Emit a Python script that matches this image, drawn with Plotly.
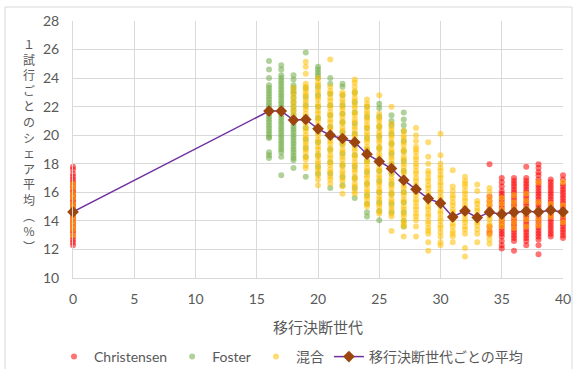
import plotly.graph_objects as go

# ---------------- data ----------------
christensen = {
    0: [17.8, 17.6, 17.3, 17.1, 16.9, 16.7, 16.6, 16.4, 16.3, 16.1, 16.0, 15.8, 15.7, 15.5, 15.4,
        15.2, 15.1, 14.9, 14.8, 14.6, 14.5, 14.3, 14.2, 14.0, 13.9, 13.7, 13.6, 13.4, 13.3, 13.1,
        12.9, 12.7, 12.5, 12.3],
    34: [17.97, 15.7, 15.4, 15.1, 14.8, 13.6, 13.3, 13.1],
    35: [17.0, 16.7, 16.4, 16.1, 15.9, 15.7, 15.5, 15.3, 15.1, 14.9, 14.7, 14.5, 14.3, 14.1, 13.9,
         13.7, 13.5, 13.3, 13.1, 12.9, 12.6, 12.3, 12.06],
    36: [17.0, 16.8, 16.6, 16.4, 16.2, 16.0, 15.8, 15.6, 15.4, 15.2, 15.0, 14.8, 14.6, 14.4, 14.2,
         14.0, 13.8, 13.6, 13.4, 13.2, 13.0, 12.8, 12.6, 11.9],
    37: [17.8, 17.0, 16.8, 16.6, 16.4, 16.2, 16.0, 15.8, 15.6, 15.4, 15.2, 15.0, 14.8, 14.6, 14.4,
         14.2, 14.0, 13.8, 13.6, 13.4, 13.2, 13.0, 12.8, 12.6, 12.3],
    38: [17.97, 17.7, 17.4, 17.2, 16.9, 16.7, 16.5, 16.3, 16.1, 15.9, 15.7, 15.5, 15.3, 15.1, 14.9,
         14.7, 14.5, 14.3, 14.1, 13.9, 13.7, 13.5, 13.3, 13.1, 12.9, 12.7, 12.3, 11.66],
    39: [16.9, 16.7, 16.5, 16.3, 16.1, 15.9, 15.7, 15.5, 15.3, 15.1, 14.9, 14.7, 14.5, 14.3, 14.1,
         13.9, 13.7, 13.5, 13.3, 13.1, 12.9],
    40: [17.2, 16.9, 16.6, 16.4, 16.2, 16.0, 15.8, 15.6, 15.4, 15.2, 15.0, 14.8, 14.6, 14.4, 14.2,
         14.0, 13.8, 13.6, 13.4, 13.2, 13.0, 12.8],
}

foster = {
    16: [25.2, 24.6, 24.0, 23.5, 23.3, 23.1, 22.9, 22.7, 22.5, 22.3, 22.1, 21.9, 21.7, 21.5, 21.3,
         21.1, 20.9, 20.7, 20.5, 20.3, 20.1, 19.9, 19.8, 18.8, 18.6, 18.4],
    17: [24.9, 24.6, 24.2, 24.0, 23.8, 23.6, 23.4, 23.2, 23.0, 22.8, 22.6, 22.4, 22.2, 22.0, 21.8,
         21.6, 21.4, 21.2, 21.0, 20.8, 20.6, 20.4, 20.2, 20.0, 19.8, 19.6, 19.4, 19.2, 19.0, 18.8,
         18.5, 17.2],
    18: [24.2, 23.9, 23.5, 23.3, 23.1, 22.9, 22.6, 22.3, 22.0, 21.7, 21.4, 21.1, 20.8, 20.6, 20.4,
         20.2, 20.0, 19.8, 19.6, 19.4, 19.2, 19.0, 18.8, 18.6, 18.4, 18.25, 17.7],
    19: [25.8, 23.3, 22.7, 22.1, 21.3, 20.5, 19.7, 19.1, 18.5, 17.1],
    20: [24.8, 24.6, 24.4, 24.2, 24.0, 23.4, 22.8, 22.0, 21.2, 20.3, 19.5, 18.6, 17.8, 17.3],
    21: [24.0, 23.6, 22.9, 22.1, 21.4, 20.6, 19.8, 19.0, 18.1, 17.3, 16.3],
    22: [23.6, 23.4, 22.8, 22.1, 21.5, 20.9, 20.2, 19.4, 18.7, 17.9, 17.1, 16.5],
    23: [23.0, 22.3, 21.6, 20.8, 20.1, 19.3, 18.6, 17.8, 17.0, 16.3, 15.6],
    24: [22.0, 21.3, 20.5, 19.8, 19.0, 18.2, 17.4, 16.6, 15.8, 15.2, 14.6, 14.3],
    25: [22.2, 21.9, 21.3, 20.6, 19.9, 19.1, 18.3, 17.5, 16.8, 16.0, 15.3, 14.7, 14.05],
    26: [21.4, 21.0, 20.7, 20.1, 19.4, 18.7, 18.0, 17.3, 16.6, 15.9, 15.2, 14.6],
    27: [21.6, 21.1, 20.7, 20.3, 19.6, 18.9, 18.2, 17.5, 16.8, 16.0, 15.3, 14.6, 14.0, 13.6],
}

mixed = {
    0: [16.6, 16.3, 15.9, 15.6, 15.2, 14.9, 14.6, 14.3, 14.0, 13.7, 13.4, 13.0],
    18: [23.3, 23.0, 22.7, 22.4, 22.1, 21.8, 21.5, 21.2],
    19: [25.15, 24.8, 24.3, 23.6, 23.4, 23.2, 23.0, 22.8, 22.5, 22.3, 22.0, 21.8, 21.5, 21.3, 21.0,
         20.8, 20.5, 20.3, 20.0, 19.8, 19.5, 19.3, 19.0, 18.8, 18.5, 18.3, 17.9, 17.7],
    20: [24.0, 23.7, 23.5, 23.2, 23.0, 22.7, 22.5, 22.2, 22.0, 21.7, 21.5, 21.2, 21.0, 20.7, 20.5,
         20.2, 20.0, 19.7, 19.5, 19.2, 19.0, 18.7, 18.5, 18.2, 18.0, 17.7, 17.5, 17.2, 16.9, 16.5],
    21: [25.3, 23.4, 23.1, 22.9, 22.6, 22.4, 22.1, 21.9, 21.6, 21.4, 21.1, 20.9, 20.6, 20.4, 20.1,
         19.9, 19.6, 19.4, 19.1, 18.9, 18.6, 18.4, 18.1, 17.9, 17.6, 17.4, 17.1, 16.9, 16.6],
    22: [23.0, 22.8, 22.5, 22.3, 22.0, 21.8, 21.5, 21.3, 21.0, 20.8, 20.5, 20.3, 20.0, 19.8, 19.5,
         19.3, 19.0, 18.8, 18.5, 18.3, 18.0, 17.8, 17.5, 17.3, 17.0, 16.8, 16.4, 15.9],
    23: [23.9, 23.7, 23.4, 23.1, 22.9, 22.6, 22.4, 22.1, 21.9, 21.6, 21.4, 21.1, 20.9, 20.6, 20.4,
         20.1, 19.9, 19.6, 19.4, 19.1, 18.9, 18.6, 18.4, 18.1, 17.9, 17.6, 17.4, 17.1, 16.9, 16.6,
         16.4, 16.1, 15.9],
    24: [22.5, 22.2, 22.0, 21.7, 21.5, 21.2, 21.0, 20.7, 20.5, 20.2, 20.0, 19.7, 19.5, 19.2, 19.0,
         18.7, 18.5, 18.2, 18.0, 17.7, 17.5, 17.2, 17.0, 16.7, 16.5, 16.2, 16.0, 15.7, 15.5, 15.2,
         15.0],
    25: [22.8, 21.5, 21.2, 21.0, 20.7, 20.5, 20.2, 20.0, 19.7, 19.5, 19.2, 19.0, 18.7, 18.5, 18.2,
         18.0, 17.7, 17.5, 17.2, 17.0, 16.7, 16.5, 16.2, 16.0, 15.7, 15.5, 15.2, 15.0, 14.7, 14.5],
    26: [22.0, 20.8, 20.5, 20.3, 20.0, 19.8, 19.5, 19.3, 19.0, 18.8, 18.5, 18.3, 18.0, 17.8, 17.5,
         17.3, 17.0, 16.8, 16.5, 16.3, 16.0, 15.8, 15.5, 15.3, 15.0, 14.8, 14.5, 14.3, 13.3],
    27: [20.3, 20.0, 19.8, 19.5, 19.3, 19.0, 18.8, 18.5, 18.3, 18.0, 17.8, 17.5, 17.3, 17.0, 16.8,
         16.5, 16.3, 16.0, 15.8, 15.5, 15.3, 15.0, 14.8, 14.5, 14.3, 14.0, 13.8, 13.6, 12.9],
    28: [20.5, 20.0, 19.6, 19.2, 19.0, 18.8, 18.5, 18.3, 18.0, 17.8, 17.5, 17.3, 17.0, 16.8, 16.5,
         16.3, 16.0, 15.8, 15.5, 15.3, 15.0, 14.8, 14.5, 14.3, 14.05, 13.6, 12.9],
    29: [19.5, 18.5, 18.0, 17.5, 17.3, 17.0, 16.8, 16.5, 16.3, 16.0, 15.8, 15.5, 15.3, 15.0, 14.8,
         14.5, 14.3, 14.0, 13.8, 13.5, 13.3, 13.1, 12.5, 11.9],
    30: [20.1, 18.6, 18.0, 17.7, 17.5, 17.2, 17.0, 16.7, 16.5, 16.2, 16.0, 15.7, 15.5, 15.2, 15.0,
         14.7, 14.5, 14.2, 14.0, 13.7, 13.5, 13.2, 12.9, 12.5, 12.3],
    31: [17.55, 16.4, 16.1, 15.8, 15.6, 15.3, 15.1, 14.8, 14.6, 14.3, 14.1, 13.8, 13.6, 13.3, 13.1,
         12.9, 12.5],
    32: [17.1, 16.8, 16.6, 16.4, 16.1, 15.9, 15.6, 15.4, 15.1, 14.9, 14.6, 14.4, 14.1, 13.9, 13.6,
         13.4, 13.1, 12.1, 11.5],
    33: [16.55, 16.1, 15.4, 15.2, 14.9, 14.7, 14.4, 14.2, 13.9, 13.7, 13.4, 13.1, 12.5],
    34: [16.3, 16.0, 15.6, 15.3, 15.1, 14.8, 14.6, 14.3, 14.1, 13.8, 13.6, 13.3, 13.0, 12.7, 12.4],
    35: [15.6, 15.2, 14.8, 14.5, 14.2, 13.9, 13.6],
    36: [15.8, 15.3, 14.9, 14.6, 14.3, 13.9, 13.5],
    37: [15.9, 15.4, 14.9, 14.5, 14.1, 13.6],
    38: [16.7, 15.3, 14.8, 14.5, 14.1, 13.7],
    39: [15.2, 14.9, 14.6, 14.3],
    40: [16.7, 15.1, 14.7, 14.4, 13.9],
}

mean_x = [0, 16, 17, 18, 19, 20, 21, 22, 23, 24, 25, 26, 27, 28, 29, 30, 31, 32, 33, 34, 35, 36, 37,
          38, 39, 40]
mean_y = [14.63, 21.69, 21.69, 21.06, 21.1, 20.45, 20.0, 19.77, 19.51, 18.67, 18.16, 17.67, 16.85,
          16.22, 15.56, 15.24, 14.28, 14.7, 14.23, 14.61, 14.47, 14.61, 14.68, 14.63, 14.75, 14.63]

series_names = ["Christensen", "Foster", "混合", "移行決断世代ごとの平均"]
y_title = "１試行ごとのシェア平均︵%︶"
x_title = "移行決断世代"


def flatten(d):
    xs, ys = [], []
    for k, vals in d.items():
        xs.extend([k] * len(vals))
        ys.extend(vals)
    return xs, ys


GRAY = "#595959"
GRID = "#D9D9D9"
LATIN = "Lato, 'Noto Sans', sans-serif"
CJK = "'Noto Sans CJK JP', 'Noto Sans', sans-serif"

fig = go.Figure()
for name, d, col in [(series_names[0], christensen, "#FF0000"),
                     (series_names[1], foster, "#70AD47"),
                     (series_names[2], mixed, "#FFC000")]:
    xs, ys = flatten(d)
    fig.add_trace(go.Scatter(x=xs, y=ys, mode="markers", name=name, cliponaxis=False,
                             marker=dict(size=6, color=col, opacity=0.55, line=dict(width=0))))

fig.add_trace(go.Scatter(x=mean_x, y=mean_y, mode="lines+markers", name=series_names[3],
                         cliponaxis=False,
                         line=dict(color="#7030A0", width=1.5),
                         marker=dict(symbol="diamond", size=9, color="#9C450E",
                                     line=dict(width=0))))

L, R, T, B = 73, 13, 21, 91
W, H = 576, 369
pw, ph = W - L - R, H - T - B

fig.update_layout(
    width=W, height=H,
    margin=dict(l=L, r=R, t=T, b=B, pad=0, autoexpand=False),
    paper_bgcolor="white", plot_bgcolor="white",
    font=dict(family=LATIN, color=GRAY, size=14),
    showlegend=True,
    legend=dict(orientation="h", x=(54 - L) / pw, xanchor="left", y=(T + ph - 357) / ph,
                yanchor="middle", font=dict(size=14, family=LATIN + ", " + CJK, color=GRAY),
                itemwidth=30, tracegroupgap=0, bgcolor="rgba(0,0,0,0)"),
    xaxis=dict(range=[0, 40], dtick=5, showgrid=True, gridcolor=GRID, gridwidth=1,
               showline=True, linecolor=GRID, linewidth=1, zeroline=False,
               ticks="", ticklabelstandoff=8, tickfont=dict(size=14, color=GRAY)),
    yaxis=dict(range=[10, 28], dtick=2, showgrid=True, gridcolor=GRID, gridwidth=1,
               showline=True, linecolor=GRID, linewidth=1, zeroline=False,
               ticks="", ticklabelstandoff=10, tickfont=dict(size=14, color=GRAY)),
)

# x-axis title
fig.add_annotation(text=x_title, xref="paper", yref="paper", x=0.5, y=(T + ph - 326) / ph,
                   xanchor="center", yanchor="middle", showarrow=False,
                   font=dict(family=CJK, size=15, color=GRAY))

# vertical stacked y-axis title (one character per line)
fig.add_annotation(text="<br>".join(y_title), xref="paper", yref="paper", x=(29 - L) / pw,
                   y=(T + ph - 145) / ph, xanchor="center", yanchor="middle",
                   showarrow=False, align="center",
                   font=dict(family=CJK, size=12, color=GRAY))

# chart-area border
fig.add_shape(type="rect", xref="paper", yref="paper",
              x0=(5 - L) / pw, x1=(572 - L) / pw, y0=(T + ph - 380) / ph, y1=(T + ph - 7) / ph,
              line=dict(color=GRID, width=1), fillcolor="rgba(0,0,0,0)", layer="below")

fig.write_html("out.html")
